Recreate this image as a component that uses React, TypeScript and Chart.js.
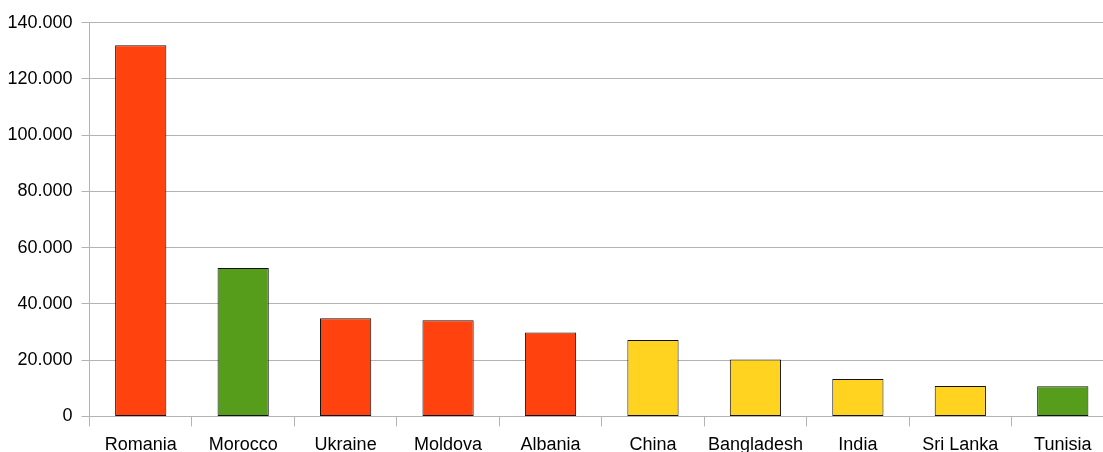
import React, { useEffect, useRef } from 'react';
import { Chart, registerables } from 'chart.js';

Chart.register(...registerables);

const categories = ['Romania', 'Morocco', 'Ukraine', 'Moldova', 'Albania', 'China', 'Bangladesh', 'India', 'Sri Lanka', 'Tunisia'];
const values = [132000, 52800, 34900, 34200, 29800, 27200, 20200, 13300, 10800, 10700];
const regions = ['europe', 'africa', 'europe', 'europe', 'europe', 'asia', 'asia', 'asia', 'asia', 'africa'];
const yTickValues = [0, 20000, 40000, 60000, 80000, 100000, 120000, 140000];

const regionColors: Record<string, string> = {
  europe: '#ff420e',
  africa: '#579d1c',
  asia: '#ffd320',
};

const formatThousands = (v: number) => String(Math.round(v)).replace(/\B(?=(\d{3})+(?!\d))/g, '.');

const FONT = { family: '"Liberation Sans", Arial, sans-serif', size: 18 };
const GRID = '#b3b3b3';

export default function App() {
  const ref = useRef<HTMLCanvasElement | null>(null);

  useEffect(() => {
    if (!ref.current) return;
    const chart = new Chart(ref.current, {
      type: 'bar',
      data: {
        labels: categories,
        datasets: [
          {
            data: values,
            backgroundColor: regions.map((r) => regionColors[r]),
            borderColor: '#111',
            borderWidth: 1,
            borderSkipped: false,
            barPercentage: 0.5,
            categoryPercentage: 1,
          },
        ],
      },
      options: {
        responsive: false,
        animation: false,
        devicePixelRatio: 1,
        layout: { padding: { left: 7.5, right: 11, top: 22.7, bottom: 5 } },
        plugins: { legend: { display: false }, tooltip: { enabled: false } },
        scales: {
          x: {
            offset: true,
            grid: { display: true, drawOnChartArea: false, drawTicks: true, tickLength: 10, color: GRID, offset: true },
            border: { display: true, color: GRID },
            ticks: { font: FONT, color: '#000', padding: 8, maxRotation: 0, autoSkip: false },
          },
          y: {
            min: 0,
            max: 140000,
            afterBuildTicks: (scale: any) => {
              scale.ticks = yTickValues.map((v) => ({ value: v }));
            },
            afterFit: (scale: any) => {
              scale.width = 82;
            },
            grid: { color: GRID, drawTicks: true, tickLength: 8 },
            border: { display: true, color: GRID },
            ticks: {
              font: FONT,
              color: '#000',
              padding: 9,
              callback: (v: any) => formatThousands(Number(v)),
            },
          },
        },
      },
    });
    return () => chart.destroy();
  }, []);

  return (
    <div style={{ position: 'fixed', left: 0, top: 0, width: 1103, height: 452, overflow: 'hidden', background: '#fff' }}>
      <canvas ref={ref} width={1125} height={469} style={{ width: 1125, height: 469, display: 'block' }} />
    </div>
  );
}
